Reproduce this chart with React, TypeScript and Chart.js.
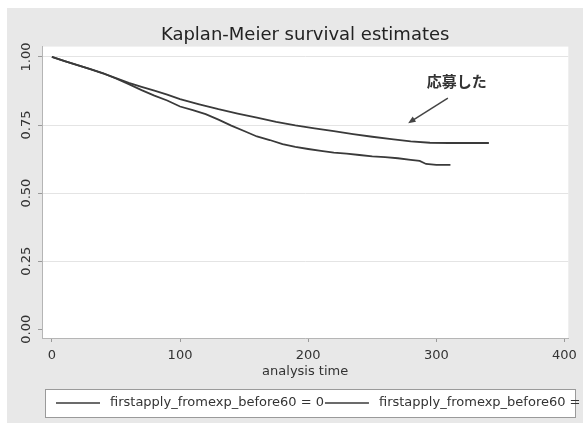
import React, { useEffect, useRef } from 'react';
import { Chart, registerables } from 'chart.js';

Chart.register(...registerables);

// ---- text ----
const chartTitle = 'Kaplan-Meier survival estimates';
const xAxisTitle = 'analysis time';
const groupVar = 'firstapply_fromexp_before60';
const groupLevels = ['0', '1'];

// ---- series (analysis time, survival estimate) ----
const group0Time = [0, 10, 20, 30, 40, 50, 60, 70, 80, 90, 100, 110, 120, 130, 140, 150, 160, 170, 180, 190, 200, 210, 220, 230, 240, 250, 260, 270, 280, 287, 292, 300, 311];
const group0Surv = [1.0, 0.985, 0.97, 0.955, 0.94, 0.921, 0.9, 0.878, 0.858, 0.84, 0.818, 0.805, 0.79, 0.77, 0.748, 0.728, 0.708, 0.695, 0.68, 0.67, 0.662, 0.655, 0.649, 0.645, 0.64, 0.635, 0.632, 0.628, 0.622, 0.618, 0.607, 0.604, 0.604];

const group1Time = [0, 10, 20, 30, 40, 50, 60, 70, 80, 90, 100, 115, 130, 145, 160, 175, 190, 205, 220, 235, 250, 265, 280, 295, 310, 325, 341];
const group1Surv = [1.0, 0.985, 0.97, 0.955, 0.94, 0.922, 0.905, 0.89, 0.876, 0.862, 0.845, 0.826, 0.808, 0.792, 0.777, 0.762, 0.749, 0.738, 0.728, 0.717, 0.707, 0.698, 0.69, 0.685, 0.684, 0.684, 0.684];

// ---- axes ----
const xTicks = [0, 100, 200, 300, 400];
const xTickLabels = ['0', '100', '200', '300', '400'];
const yTicks = [0, 0.25, 0.5, 0.75, 1];
const yTickLabels = ['0.00', '0.25', '0.50', '0.75', '1.00'];

// ---- annotation (data coordinates) ----
const annotationText = '応募した';
const annotationTextAt = [316, 0.909];
const annotationArrowFrom = [309, 0.849];
const annotationArrowTo = [278, 0.757];

const LINE_COLOR = '#3a3a3a';
const BG = '#e8e8e8';
const FONT = '"DejaVu Sans", sans-serif';

const toPoints = (t: number[], s: number[]) => t.map((x, i) => ({ x, y: s[i] }));

const backgroundPlugin = {
  id: 'stataBackground',
  beforeDraw(chart: any) {
    const { ctx, chartArea } = chart;
    ctx.save();
    ctx.fillStyle = BG;
    ctx.fillRect(0, 0, chart.width, chart.height);
    ctx.fillStyle = '#ffffff';
    ctx.fillRect(chartArea.left, chartArea.top, chartArea.right - chartArea.left, chartArea.bottom - chartArea.top);
    ctx.restore();
  },
};

const annotationPlugin = {
  id: 'stataAnnotation',
  afterDatasetsDraw(chart: any) {
    const { ctx } = chart;
    const xs = chart.scales.x;
    const ys = chart.scales.y;
    ctx.save();
    ctx.fillStyle = '#333';
    ctx.font = 'bold 15px "Noto Sans CJK JP", sans-serif';
    ctx.textAlign = 'center';
    ctx.textBaseline = 'middle';
    ctx.fillText(annotationText, xs.getPixelForValue(annotationTextAt[0]), ys.getPixelForValue(annotationTextAt[1]));

    const x1 = xs.getPixelForValue(annotationArrowFrom[0]);
    const y1 = ys.getPixelForValue(annotationArrowFrom[1]);
    const x2 = xs.getPixelForValue(annotationArrowTo[0]);
    const y2 = ys.getPixelForValue(annotationArrowTo[1]);
    const ang = Math.atan2(y2 - y1, x2 - x1);
    const head = 8;
    ctx.strokeStyle = '#444';
    ctx.lineWidth = 1.5;
    ctx.beginPath();
    ctx.moveTo(x1, y1);
    ctx.lineTo(x2 - Math.cos(ang) * head * 0.6, y2 - Math.sin(ang) * head * 0.6);
    ctx.stroke();
    ctx.fillStyle = '#444';
    ctx.beginPath();
    ctx.moveTo(x2, y2);
    ctx.lineTo(x2 - head * Math.cos(ang - 0.4), y2 - head * Math.sin(ang - 0.4));
    ctx.lineTo(x2 - head * Math.cos(ang + 0.4), y2 - head * Math.sin(ang + 0.4));
    ctx.closePath();
    ctx.fill();
    ctx.restore();
  },
};

const legendPlugin = {
  id: 'stataLegend',
  afterDraw(chart: any) {
    const { ctx, chartArea } = chart;
    const boxLeft = chartArea.left + 3;
    const boxRight = chart.width - 8;
    const boxTop = chart.height - 34;
    const boxBottom = chart.height - 6;
    ctx.save();
    ctx.fillStyle = '#ffffff';
    ctx.fillRect(boxLeft, boxTop, boxRight - boxLeft, boxBottom - boxTop);
    ctx.strokeStyle = '#9a9a9a';
    ctx.lineWidth = 1;
    ctx.strokeRect(boxLeft + 0.5, boxTop + 0.5, boxRight - boxLeft, boxBottom - boxTop);
    const midY = (boxTop + boxBottom) / 2;
    ctx.font = '13px ' + FONT;
    ctx.textAlign = 'left';
    ctx.textBaseline = 'middle';
    let x = boxLeft + 11;
    chart.data.datasets.forEach((ds: any) => {
      ctx.strokeStyle = ds.borderColor;
      ctx.lineWidth = 1.5;
      ctx.beginPath();
      ctx.moveTo(x, midY);
      ctx.lineTo(x + 44, midY);
      ctx.stroke();
      x += 54;
      ctx.fillStyle = '#333';
      ctx.fillText(ds.label, x, midY);
      x += ctx.measureText(ds.label).width + 1;
    });
    ctx.restore();
  },
};

export default function App() {
  const canvasRef = useRef<HTMLCanvasElement | null>(null);

  useEffect(() => {
    if (!canvasRef.current) return;
    Chart.defaults.font.family = FONT;
    const chart = new Chart(canvasRef.current, {
      type: 'line',
      data: {
        datasets: [
          {
            label: `${groupVar} = ${groupLevels[0]}`,
            data: toPoints(group0Time, group0Surv),
            borderColor: LINE_COLOR,
            borderWidth: 1.8,
            pointRadius: 0,
            fill: false,
            tension: 0,
          },
          {
            label: `${groupVar} = ${groupLevels[1]}`,
            data: toPoints(group1Time, group1Surv),
            borderColor: LINE_COLOR,
            borderWidth: 1.8,
            pointRadius: 0,
            fill: false,
            tension: 0,
          },
        ],
      },
      options: {
        responsive: false,
        animation: false,
        layout: { padding: { left: 0, right: 10, top: 0, bottom: 44 } },
        plugins: {
          legend: { display: false },
          tooltip: { enabled: false },
          title: {
            display: true,
            text: chartTitle,
            fullSize: false,
            color: '#222',
            font: { size: 18, weight: 'normal', family: FONT },
            padding: { top: 17, bottom: 0 },
          },
        },
        scales: {
          x: {
            type: 'linear',
            min: -7.7,
            max: 403,
            afterBuildTicks: (scale: any) => {
              scale.ticks = xTicks.map((v) => ({ value: v }));
            },
            afterFit: (scale: any) => {
              scale.height = 41;
            },
            ticks: {
              color: '#333',
              font: { size: 13, family: FONT },
              padding: 6,
              maxRotation: 0,
              callback: (_v: any, i: number) => xTickLabels[i],
            },
            grid: {
              drawOnChartArea: false,
              drawTicks: true,
              tickLength: 4,
              tickColor: '#9a9a9a',
            },
            border: { display: true, color: '#b5b5b5', width: 1 },
            title: {
              display: true,
              text: xAxisTitle,
              color: '#333',
              font: { size: 13, family: FONT },
              padding: { top: 0, bottom: 0 },
            },
          },
          y: {
            type: 'linear',
            min: -0.032,
            max: 1.038,
            afterBuildTicks: (scale: any) => {
              scale.ticks = yTicks.map((v) => ({ value: v }));
            },
            afterFit: (scale: any) => {
              scale.width = 35;
            },
            ticks: {
              color: '#333',
              font: { size: 13, family: FONT },
              minRotation: 90,
              maxRotation: 90,
              crossAlign: 'center',
              padding: -3.5,
              callback: (_v: any, i: number) => yTickLabels[i],
            },
            grid: {
              drawOnChartArea: true,
              drawTicks: true,
              tickLength: 4,
              tickColor: '#9a9a9a',
              color: (c: any) => (c.tick && c.tick.value === 0 ? 'rgba(0,0,0,0)' : '#e4e4e4'),
              lineWidth: 1,
            },
            border: { display: true, color: '#b5b5b5', width: 1 },
          },
        },
      },
      plugins: [backgroundPlugin, annotationPlugin, legendPlugin],
    } as any);
    return () => chart.destroy();
  }, []);

  return (
    <canvas
      ref={canvasRef}
      width={576}
      height={415}
      style={{ position: 'fixed', left: 7, top: 8, width: 576, height: 415, display: 'block' }}
    />
  );
}
